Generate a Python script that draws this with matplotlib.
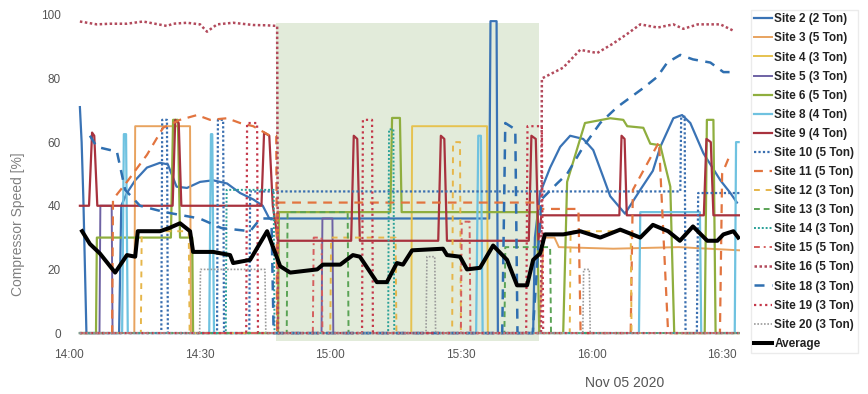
import matplotlib
matplotlib.use("Agg")
import matplotlib.pyplot as plt
import matplotlib.dates as mdates
import pandas as pd

plt.rcParams['font.family'] = ['Liberation Sans', 'DejaVu Sans']

# minutes after 14:00 on Nov 05 2020, and compressor speed [%]
t_site2 = [2.5, 2.9, 3.3, 4.0, 11.5, 12.0, 13.3, 15.2, 17.9, 20.9, 22.7, 24.7, 27.1, 30.1, 33.1, 36.3,
           39.3, 42.3, 44.5, 46.0, 48.0, 96.5, 96.8, 98.2, 98.5, 106.6, 107.0, 108.2, 110.5, 112.8,
           115.1, 118.1, 120.4, 122.7, 124.3, 127.7, 131.2, 134.1, 135.8, 138.8, 140.8, 142.7, 145.7,
           149.6, 151.9, 153.4]
v_site2 = [71, 60, 42, 0, 0, 40, 44, 48, 52, 53.5, 53, 46, 45.6, 47.5, 48, 47, 44, 42, 40, 36,
           36, 36, 98, 98, 0, 0, 30, 44, 52, 58.5, 62, 61, 57.5, 49, 43, 37.5, 45, 51, 58.5, 67.5,
           68.5, 66, 56.5, 48, 44, 41]

t_site3 = [2.5, 15.0, 15.2, 27.8, 28.0, 108.0, 109.0, 111.5, 112.5, 125, 140, 154]
v_site3 = [0, 0, 65, 65, 0, 0, 30, 30, 27, 26.5, 27, 26]

t_site4 = [2.5, 78.6, 78.8, 96.0, 96.2, 154]
v_site4 = [0, 0, 65, 65, 0, 0]

t_site5 = [2.5, 7.0, 7.2, 9.8, 10.0, 58.0, 58.2, 60.5, 60.7, 154]
v_site5 = [0, 0, 40, 40, 0, 0, 36, 36, 0, 0]

t_site6 = [2.5, 6.2, 6.4, 23.4, 23.9, 25.0, 25.5, 28.3, 28.5, 48.0, 48.2, 73.8, 74.2, 76.0, 76.4,
           107.5, 108.0, 113.5, 114.4, 118.5, 124.3, 127.3, 128.2, 131.9, 133.5, 135.8, 136.5,
           138.1, 139.0, 146.0, 146.5, 148.0, 148.5, 154.0]
v_site6 = [0, 0, 30, 30, 67, 67, 30, 30, 0, 0, 38, 38, 67.6, 67.6, 38, 38, 0, 0, 47.5, 66, 67.5,
           67, 65, 64.5, 59.5, 59, 55, 46, 0, 0, 67, 67, 0, 0]

t_site8 = [2.5, 12.2, 12.6, 13.1, 13.5, 32.2, 32.6, 32.9, 33.3, 93.5, 94.0, 94.6, 95.0, 130.9,
           131.2, 144.9, 145.2, 152.9, 153.2, 153.8]
v_site8 = [0, 0, 62.5, 62.5, 0, 0, 62.5, 62.5, 0, 0, 62, 62, 0, 0, 38, 38, 0, 0, 60, 60]

t_site9 = [2.5, 4.6, 5.3, 5.8, 6.5, 23.8, 24.4, 25.2, 25.8, 44.2, 44.8, 46.0, 46.8, 48.0, 64.8,
           65.4, 66.2, 66.8, 84.8, 85.4, 86.2, 86.8, 105.6, 106.2, 107.2, 107.8, 108.5, 126.4,
           126.9, 127.6, 128.1, 145.8, 146.4, 147.4, 148.0, 154.0]
v_site9 = [40, 40, 63, 62, 40, 40, 67, 66, 40, 40, 63, 62, 40, 29, 29, 62, 61, 29, 29, 62, 61,
           29, 29, 62, 61, 29, 37, 37, 62, 61, 37, 37, 61, 60, 37, 37]

t_site10 = [2.5, 21.2, 21.4, 22.5, 22.7, 34.0, 34.2, 35.4, 35.6, 41.4, 41.6, 140.4, 140.6, 141.4,
            141.6, 144.2, 144.5, 154]
v_site10 = [0, 0, 67, 67, 0, 0, 67, 67, 0, 0, 44.5, 44.5, 68, 68, 0, 0, 44, 44]

t_site11 = [2.5, 9.9, 10.1, 13.3, 17.9, 21.6, 25.5, 29.4, 32.4, 36.3, 39.3, 42.3, 46.2, 47.6,
            47.8, 48.0, 107.8, 108.0, 117, 117.5, 129, 129.5, 135.5, 137.6, 149.5, 150.0, 151.5]
v_site11 = [0, 0, 42, 47.5, 56, 64.5, 67, 68.5, 67, 67.5, 66, 65, 62, 62, 0, 41, 41, 39, 39, 0,
            0, 45, 60, 0, 0, 50, 55]

t_site12 = [2.5, 16.5, 16.7, 27.5, 27.7, 60.0, 60.2, 75.0, 75.2, 88.0, 88.2, 89.8, 90.0, 115.0,
            115.2, 129.0, 129.2, 154]
v_site12 = [0, 0, 32, 32, 0, 0, 30, 30, 0, 0, 60, 60, 0, 0, 32, 32, 0, 0]

t_site13 = [2.5, 50.0, 50.2, 64.0, 64.2, 100.0, 100.2, 110.5, 110.7, 154]
v_site13 = [0, 0, 38, 38, 0, 0, 27, 27, 0, 0]

t_site14 = [2.5, 36.0, 36.2, 47.0, 47.2, 73.3, 73.5, 74.5, 74.7, 154]
v_site14 = [0, 0, 45, 45, 0, 0, 64, 64, 0, 0]

t_site15 = [2.5, 56.0, 56.2, 58.0, 58.2, 90.0, 90.2, 92.0, 92.2, 154]
v_site15 = [0, 0, 30, 30, 0, 0, 35, 35, 0, 0]

t_site16 = [2.5, 6.4, 9.4, 13.3, 17.0, 22.5, 23.9, 27.1, 30.1, 31.7, 34.0, 37.7, 42.3, 45.5, 47.8,
            48.0, 108.4, 108.6, 113.5, 117.4, 121.3, 125.0, 128.2, 131.2, 135.2, 138.8, 141.1,
            144.4, 149.6, 152.6]
v_site16 = [97.9, 97, 97.2, 97.2, 97.9, 96.5, 97.2, 97.5, 97, 94.7, 97, 97.5, 96.8, 96.7, 96.5,
            0, 0, 80, 83.4, 89, 88, 91, 94, 97, 96, 97, 95.6, 97, 97, 95]

t_site18 = [4.8, 6.4, 11.0, 12.9, 16.3, 22, 30, 35, 41.6, 44, 46.5, 47, 70, 99.5, 100.2, 102.5,
            103, 106.5, 108.5, 112.1, 114.4, 118.1, 122.0, 125.9, 128.9, 131.9, 135.1, 137.4,
            140.4, 143.3, 147.3, 150.3, 151.9]
v_site18 = [62, 58.5, 57, 45, 40, 38, 36, 33, 32, 36, 36, 0, 0, 0, 66, 64, 0, 0, 42, 47, 50,
            58.5, 66, 71, 74, 77, 80.5, 85, 87.4, 86, 85, 82, 82]

t_site19 = [2.5, 40.7, 40.9, 43.2, 43.4, 67.3, 67.5, 69.6, 69.8, 105.0, 105.3, 108.6, 108.9, 154]
v_site19 = [0, 0, 66, 66, 0, 0, 67, 67, 0, 0, 65, 65, 0, 0]

t_site20 = [2.5, 30.0, 30.2, 45.0, 45.2, 82.0, 82.2, 84.0, 84.2, 118.0, 118.2, 119.5, 119.7, 154]
v_site20 = [0, 0, 20, 20, 0, 0, 24, 24, 0, 0, 20, 20, 0, 0]

t_avg = [3.0, 4.8, 7.1, 10.6, 13.3, 15.2, 15.8, 20.9, 23.0, 25.5, 27.8, 28.5, 33.1, 37.0, 37.7,
         41.6, 45.5, 48.5, 50.8, 57.0, 58.3, 62.3, 65.2, 66.8, 70.7, 73.0, 75.3, 76.7, 78.8, 85.9,
         86.8, 89.8, 91.4, 94.4, 97.4, 100.6, 102.9, 105.2, 106.6, 108.2, 109.3, 113.5, 117.4,
         122.0, 126.6, 131.2, 134.1, 137.6, 140.3, 143.3, 146.6, 148.9, 150.3, 152.6, 153.7]
v_avg = [32, 28, 25, 19, 24.5, 24, 32, 32, 33, 34.5, 32, 25.5, 25.5, 24.5, 22, 23, 32, 21, 19,
         20, 21.5, 21.5, 24.5, 24, 16, 16, 22, 21.5, 26, 26.5, 24.5, 24, 20, 20.5, 27.5, 23, 15,
         15, 23, 25, 31, 31, 32, 30, 32.5, 30, 34, 32, 29, 33.5, 29, 29, 31, 32, 30]

shade_window = [47.5, 108.0]   # highlighted period (minutes)
shade_top = 97.5

start = pd.Timestamp("2020-11-05 14:00")


def to_time(mins):
    return start + pd.to_timedelta(mins, unit="m")


series = [
    ("Site 2 (2 Ton)", t_site2, v_site2, "#3a73b5", "-", 1.6),
    ("Site 3 (5 Ton)", t_site3, v_site3, "#e8a35f", "-", 1.4),
    ("Site 4 (3 Ton)", t_site4, v_site4, "#e6c24f", "-", 1.4),
    ("Site 5 (3 Ton)", t_site5, v_site5, "#6e62a4", "-", 1.4),
    ("Site 6 (5 Ton)", t_site6, v_site6, "#8fae3e", "-", 1.6),
    ("Site 8 (4 Ton)", t_site8, v_site8, "#6fc2e0", "-", 1.6),
    ("Site 9 (4 Ton)", t_site9, v_site9, "#a8323e", "-", 1.6),
    ("Site 10 (5 Ton)", t_site10, v_site10, "#3a6fb0", (0, (1, 1)), 1.6),
    ("Site 11 (5 Ton)", t_site11, v_site11, "#e2743f", (0, (4, 3)), 1.6),
    ("Site 12 (3 Ton)", t_site12, v_site12, "#e6b64a", (0, (3, 3)), 1.4),
    ("Site 13 (3 Ton)", t_site13, v_site13, "#5aa355", (0, (3, 2)), 1.4),
    ("Site 14 (3 Ton)", t_site14, v_site14, "#2aa198", (0, (1, 1)), 1.4),
    ("Site 15 (5 Ton)", t_site15, v_site15, "#d55e5e", (0, (3, 2, 1, 2)), 1.4),
    ("Site 16 (5 Ton)", t_site16, v_site16, "#b24a5c", (0, (1, 1)), 1.8),
    ("Site 18 (3 Ton)", t_site18, v_site18, "#2f6fb0", (0, (4, 3)), 1.8),
    ("Site 19 (3 Ton)", t_site19, v_site19, "#c4384a", (0, (1, 1.5)), 1.6),
    ("Site 20 (3 Ton)", t_site20, v_site20, "#9b9b9b", (0, (1, 1)), 1.2),
]

fig = plt.figure(figsize=(8.68, 3.94), dpi=100)
ax = fig.add_axes([0.0795, 0.1345, 0.773, 0.84])

ax.fill_between(to_time(pd.Series(shade_window)), -2.5, shade_top,
                color="#e2ebda", lw=0, zorder=0)

for label, t, v, color, ls, lw in series:
    ax.plot(to_time(pd.Series(t)), v, color=color, ls=ls, lw=lw, label=label)

ax.plot(to_time(pd.Series(t_avg)), v_avg, color="black", lw=2.9, label="Average", zorder=5)

ax.set_xlim(to_time(0), to_time(154.1))
ax.set_ylim(-2.5, 101.5)
ax.set_yticks([0, 20, 40, 60, 80, 100])
ax.xaxis.set_major_locator(mdates.MinuteLocator(byminute=[0, 30]))
ax.xaxis.set_major_formatter(mdates.DateFormatter("%H:%M"))
ax.tick_params(length=0, labelsize=8.5, labelcolor="#555555", pad=6)
for s in ax.spines.values():
    s.set_visible(False)

fig.text(0.021, 0.43, "Compressor Speed [%]", rotation=90, ha="center", va="center",
         fontsize=10, color="#808080")
fig.text(0.72, 0.028, "Nov 05 2020", ha="center", va="center", fontsize=10, color="#555555")

leg = fig.legend(loc="upper left", bbox_to_anchor=(0.858, 0.99), fontsize=8.5,
                 handlelength=1.5, handletextpad=0.2, labelspacing=0.6, borderpad=0.3,
                 frameon=True, edgecolor="#e6e6e6", fancybox=False)
for txt in leg.get_texts():
    txt.set_fontweight("bold")
    txt.set_color("#222222")

plt.savefig("out.png", dpi=100)
plt.close()
